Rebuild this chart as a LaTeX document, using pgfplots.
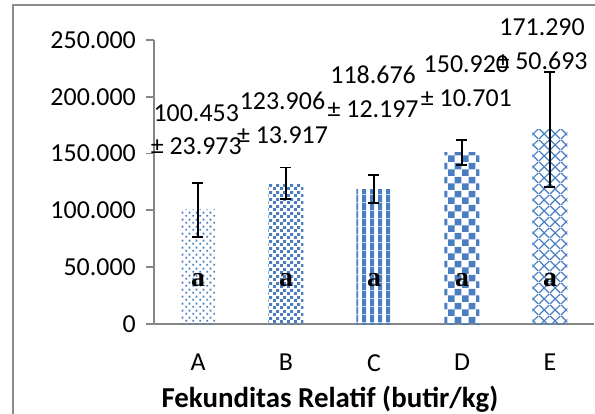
\documentclass[border=0pt]{standalone}
\usepackage{fontspec}
\setmainfont{Carlito}
\newfontfamily\serifb{Liberation Serif}
\usepackage{pgfplots}
\pgfplotsset{compat=1.18}
\usetikzlibrary{patterns,patterns.meta}
\definecolor{barblue}{RGB}{74,126,193}
\definecolor{axisgray}{RGB}{134,134,134}
\definecolor{framegray}{RGB}{140,140,140}

\tikzdeclarepattern{
  name=sparsedots, type=uncolored,
  bottom left={(0bp,0bp)}, top right={(6.6bp,6.6bp)}, tile size={(6.6bp,6.6bp)},
  code={\fill (0.4bp,0.4bp) rectangle (2.3bp,2.3bp);
        \fill (3.7bp,3.7bp) rectangle (5.6bp,5.6bp);}
}
\tikzdeclarepattern{
  name=densesq, type=uncolored,
  bottom left={(0bp,0bp)}, top right={(7bp,7bp)}, tile size={(7bp,7bp)},
  code={\fill (0bp,0bp) rectangle (3.2bp,3.2bp);
        \fill (3.5bp,3.5bp) rectangle (6.7bp,6.7bp);}
}
\tikzdeclarepattern{
  name=vstripes, type=uncolored,
  bottom left={(0bp,0bp)}, top right={(7.7bp,7.7bp)}, tile size={(7.7bp,7.7bp)},
  code={\fill (0bp,0bp) rectangle (4.3bp,7.7bp);}
}
\tikzdeclarepattern{
  name=checker, type=uncolored,
  bottom left={(0bp,0bp)}, top right={(14bp,14bp)}, tile size={(14bp,14bp)},
  code={\fill (0bp,0bp) rectangle (7bp,7bp);
        \fill (7bp,7bp) rectangle (14bp,14bp);}
}
\tikzdeclarepattern{
  name=diagx, type=uncolored,
  bottom left={(0bp,0bp)}, top right={(11bp,11bp)}, tile size={(11bp,11bp)},
  code={\draw[line width=1.3bp] (0bp,0bp) -- (11bp,11bp);
        \draw[line width=1.3bp] (0bp,11bp) -- (11bp,0bp);}
}

\begin{document}
\begin{tikzpicture}
\useasboundingbox (-154bp,-90bp) rectangle (441bp,324bp);
\draw[framegray, line width=1.8bp] (-141bp,-130bp) rectangle (470bp,319bp);
\begin{axis}[
  at={(0,0)}, anchor=south west,
  scale only axis, width=440bp, height=284bp,
  xmin=-0.5, xmax=4.5, ymin=0, ymax=250,
  clip=false,
  axis x line*=bottom, axis y line*=left,
  axis line style={draw=axisgray, line width=1.8bp},
  xtick={0,1,2,3,4}, xticklabels={A,B,C,D,E},
  xtick style={draw=none},
  ytick={0,50,100,150,200,250},
  yticklabels={0,50.000,100.000,150.000,200.000,250.000},
  tick align=outside, major tick length=8bp,
  ytick style={draw=axisgray, line width=1.8bp},
  tick label style={font=\fontsize{26}{30}\selectfont, inner sep=0pt},
  yticklabel style={xshift=-10bp},
  xticklabel style={yshift=-22bp},
  xlabel={\bfseries Fekunditas Relatif (butir/kg)},
  xlabel style={at={(axis description cs:0.4,0)}, anchor=center, yshift=-75bp,
    font=\fontsize{29}{34}\selectfont, inner sep=0pt},
  error bars/error bar style={line width=1.8bp, black},
  error bars/error mark options={rotate=90, mark size=5.5bp, line width=1.8bp, black},
]
\addplot[ybar, bar width=35bp, bar shift=0pt, draw=none, pattern=sparsedots, pattern color=barblue,
  error bars/.cd, y dir=both, y explicit] coordinates {(0,100.453) +- (0,23.973)};
\addplot[ybar, bar width=35bp, bar shift=0pt, draw=none, pattern=densesq, pattern color=barblue,
  error bars/.cd, y dir=both, y explicit] coordinates {(1,123.906) +- (0,13.917)};
\addplot[ybar, bar width=35bp, bar shift=0pt, draw=none, pattern=vstripes, pattern color=barblue,
  error bars/.cd, y dir=both, y explicit] coordinates {(2,118.676) +- (0,12.197)};
\addplot[ybar, bar width=35bp, bar shift=0pt, draw=none, pattern=checker, pattern color=barblue,
  error bars/.cd, y dir=both, y explicit] coordinates {(3,150.920) +- (0,10.701)};
\addplot[ybar, bar width=35bp, bar shift=0pt, draw=none, pattern=diagx, pattern color=barblue,
  error bars/.cd, y dir=both, y explicit] coordinates {(4,171.290) +- (0,50.693)};

\node[align=center, inner sep=0pt, font=\fontsize{26}{34}\selectfont] at (axis cs:-0.02,171) {100.453\\± 23.973};
\node[align=center, inner sep=0pt, font=\fontsize{26}{34}\selectfont] at (axis cs:0.96,181.5) {123.906\\± 13.917};
\node[align=center, inner sep=0pt, font=\fontsize{26}{34}\selectfont] at (axis cs:1.99,204.5) {118.676\\± 12.197};
\node[align=center, inner sep=0pt, font=\fontsize{26}{34}\selectfont] at (axis cs:3.05,213.5) {150.920\\± 10.701};
\node[align=center, inner sep=0pt, font=\fontsize{26}{34}\selectfont] at (axis cs:3.91,246.5) {171.290\\± 50.693};

\node[inner sep=0pt, font=\serifb\bfseries\fontsize{28}{30}\selectfont] at (axis cs:0,39) {a};
\node[inner sep=0pt, font=\serifb\bfseries\fontsize{28}{30}\selectfont] at (axis cs:1,39) {a};
\node[inner sep=0pt, font=\serifb\bfseries\fontsize{28}{30}\selectfont] at (axis cs:2,39) {a};
\node[inner sep=0pt, font=\serifb\bfseries\fontsize{28}{30}\selectfont] at (axis cs:3,39) {a};
\node[inner sep=0pt, font=\serifb\bfseries\fontsize{28}{30}\selectfont] at (axis cs:4,39) {a};
\end{axis}
\end{tikzpicture}
\end{document}
